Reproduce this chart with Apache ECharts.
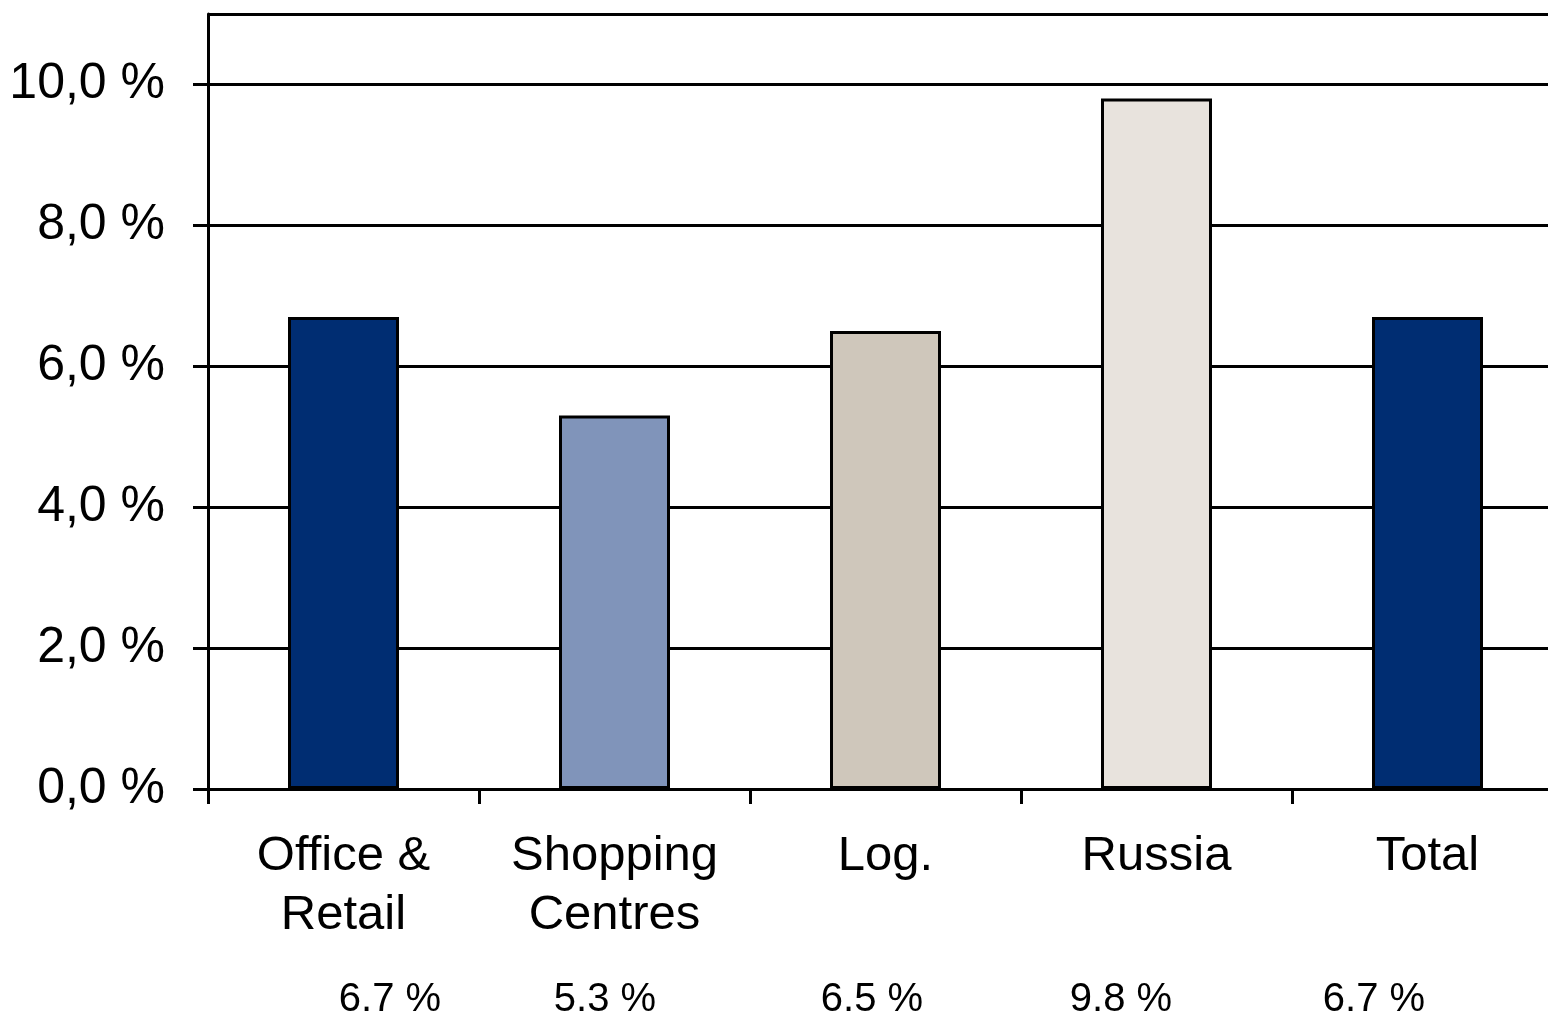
<!DOCTYPE html>
<html><head><meta charset="utf-8">
<script src="https://cdn.jsdelivr.net/npm/echarts@6/dist/echarts.min.js"></script>
<style>html,body{margin:0;padding:0;background:#fff}#c{width:1548px;height:1017px}</style>
</head><body><div id="c"></div>
<script>
const categories = ['Office &\nRetail', 'Shopping\nCentres', 'Log.', 'Russia', 'Total'];
const values = [6.7, 5.3, 6.5, 9.8, 6.7];
const valueLabels = ['6.7 %', '5.3 %', '6.5 %', '9.8 %', '6.7 %'];
const yTicks = [0, 2, 4, 6, 8, 10];
const barColors = ['#002D72', '#8094BA', '#CFC7BB', '#E8E3DD', '#002D72'];
const labelShift = [[0,0,0,93],[0,19,0,0],[0,27,0,0],[0,71,0,0],[0,107,0,0]];

const FONT = '"Liberation Sans", Arial, Helvetica, sans-serif';
const chart = echarts.init(document.getElementById('c'));
chart.setOption({
  animation: false,
  grid: {left: 208, top: 14, width: 1355, bottom: 228, containLabel: false, outerBoundsMode: 'none'},
  xAxis: [{
    type: 'category', data: categories, position: 'bottom',
    axisLine: {lineStyle: {color: '#000', width: 3}},
    axisTick: {show: true, length: 15, lineStyle: {color: '#000', width: 3}},
    axisLabel: {color: '#000', fontFamily: FONT, fontSize: 49, lineHeight: 59, margin: 38, interval: 0}
  }, {
    type: 'category', position: 'bottom',
    data: categories.map((c, i) => ({value: c, textStyle: {padding: labelShift[i]}})),
    axisLine: {show: false}, axisTick: {show: false},
    axisLabel: {color: '#000', fontFamily: FONT, fontSize: 40, lineHeight: 40, margin: 191, interval: 0,
      formatter: (v, i) => valueLabels[i]}
  }],
  yAxis: {
    type: 'value', min: 0, max: 11, interval: 2,
    axisLine: {show: true, lineStyle: {color: '#000', width: 3}},
    axisTick: {show: true, length: 15, lineStyle: {color: '#000', width: 3}},
    splitLine: {show: true, lineStyle: {color: '#000', width: 3}},
    axisLabel: {color: '#000', fontFamily: FONT, fontSize: 50, margin: 43, showMaxLabel: false,
      formatter: v => yTicks.includes(v) ? v.toFixed(1).replace('.', ',') + ' %' : ''}
  },
  series: [{
    type: 'bar', xAxisIndex: 0, barWidth: 111,
    data: values.map((v, i) => ({value: v, itemStyle: {color: barColors[i]}})),
    itemStyle: {borderColor: '#000', borderWidth: 3}
  }]
});
</script></body></html>
